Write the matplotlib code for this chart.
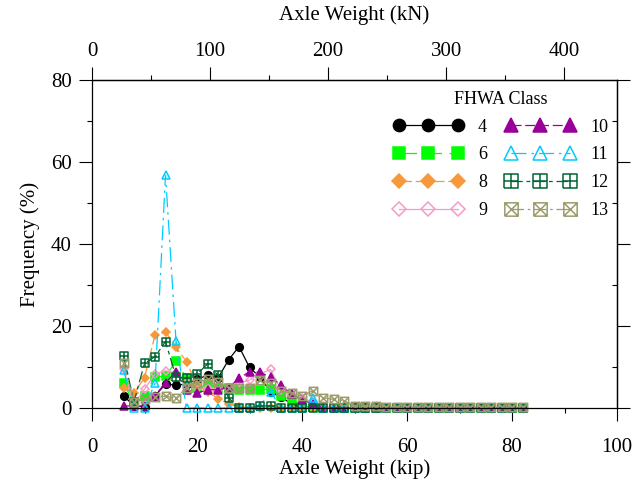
import numpy as np
import matplotlib
matplotlib.use("Agg")
import matplotlib.pyplot as plt
from matplotlib.path import Path
from matplotlib.ticker import MultipleLocator, NullFormatter, FixedLocator

# ---------------- data ----------------
axle_kip = [6, 8, 10, 12, 14, 16, 18, 20, 22, 24, 26, 28, 30, 32, 34, 36, 38, 40, 42, 44,
            46, 48, 50, 52, 54, 56, 58, 60, 62, 64, 66, 68, 70, 72, 74, 76, 78, 80, 82]

class4 = [3.0, 0.5, 0.3, 3.0, 5.8, 5.6, 5.8, 7.0, 8.0, 7.3, 11.7, 15.0, 9.9, 7.5, 4.0, 2.7, 1.0, 0.5, 0.2, 0.0,
          0.0, 0.0, 0.0, 0.0, 0.0, 0.0, 0.0, 0.0, 0.0, 0.0, 0.0, 0.0, 0.0, 0.0, 0.0, 0.0, 0.0, 0.0, 0.0]
class6 = [6.2, 1.0, 3.0, 7.6, 7.8, 11.4, 7.3, 5.0, 5.5, 5.0, 4.9, 4.5, 4.5, 4.5, 4.6, 3.0, 2.0, 0.5, 0.2, 0.0,
          0.0, 0.0, 0.0, 0.0, 0.0, 0.0, 0.0, 0.0, 0.0, 0.0, 0.0, 0.0, 0.0, 0.0, 0.0, 0.0, 0.0, 0.0, 0.0]
class8 = [5.0, 3.6, 7.4, 17.8, 18.6, 14.8, 11.3, 5.5, 4.0, 2.3, 1.0, 0.3, 0.0, 0.0, 0.0, 0.0, 0.0, 0.0, 0.0, 0.0,
          0.0, 0.0, 0.0, 0.0, 0.0, 0.0, 0.0, 0.0, 0.0, 0.0, 0.0, 0.0, 0.0, 0.0, 0.0, 0.0, 0.0, 0.0, 0.0]
class9 = [9.5, 1.0, 4.6, 8.3, 9.1, 8.5, 6.0, 5.0, 5.0, 4.5, 5.0, 6.0, 6.8, 8.3, 9.4, 4.4, 3.3, 2.4, 1.5, 0.5,
          0.0, 0.0, 0.0, 0.0, 0.0, 0.0, 0.0, 0.0, 0.0, 0.0, 0.0, 0.0, 0.0, 0.0, 0.0, 0.0, 0.0, 0.0, 0.0]
class10 = [0.5, 0.5, 0.5, 3.0, 6.2, 8.8, 4.5, 3.6, 4.5, 4.4, 5.0, 7.2, 8.9, 8.7, 7.5, 5.6, 3.3, 2.0, 1.0, 0.3,
           0.0, 0.0, 0.0, 0.0, 0.0, 0.0, 0.0, 0.0, 0.0, 0.0, 0.0, 0.0, 0.0, 0.0, 0.0, 0.0, 0.0, 0.0, 0.0]
class11 = [9.3, 0.0, 0.0, 6.0, 56.8, 16.4, 0.0, 0.0, 0.0, 0.0, 0.0, 0.0, 0.0, 0.5, 4.0, 0.0, 0.0, 0.0, 2.4, 0.0,
           0.0, 0.0, 0.0, 0.0, 0.0, 0.0, 0.0, 0.0, 0.0, 0.0, 0.0, 0.0, 0.0, 0.0, 0.0, 0.0, 0.0, 0.0, 0.0]
class12 = [12.7, 1.5, 10.9, 12.5, 16.2, 7.6, 7.2, 8.3, 10.7, 8.0, 2.5, 0.0, 0.0, 0.5, 0.5, 0.0, 0.0, 0.0, 0.0, 0.0,
           0.0, 0.0, 0.0, 0.0, 0.0, 0.0, 0.0, 0.0, 0.0, 0.0, 0.0, 0.0, 0.0, 0.0, 0.0, 0.0, 0.0, 0.0, 0.0]
class13 = [10.9, 1.5, 2.1, 2.6, 2.9, 2.4, 5.0, 6.2, 7.0, 6.4, 5.0, 4.8, 5.0, 6.8, 6.0, 4.2, 3.6, 2.9, 4.2, 2.5,
           2.1, 1.8, 0.5, 0.5, 0.5, 0.3, 0.2, 0.2, 0.2, 0.2, 0.2, 0.2, 0.2, 0.2, 0.2, 0.2, 0.2, 0.2, 0.2]

class_labels = ["4", "6", "8", "9", "10", "11", "12", "13"]
kn_ticks = [0, 100, 200, 300, 400]
kn_minor_ticks = [50, 150, 250, 350]

# ---------------- style ----------------
plt.rcParams['font.family'] = ['Liberation Serif', 'DejaVu Serif']

boxplus = Path([(-1, -1), (1, -1), (1, 1), (-1, 1), (-1, -1), (0, -1), (0, 1), (-1, 0), (1, 0)],
               [Path.MOVETO, Path.LINETO, Path.LINETO, Path.LINETO, Path.LINETO,
                Path.MOVETO, Path.LINETO, Path.MOVETO, Path.LINETO])
boxx = Path([(-1, -1), (1, -1), (1, 1), (-1, 1), (-1, -1), (-1, -1), (1, 1), (-1, 1), (1, -1)],
            [Path.MOVETO, Path.LINETO, Path.LINETO, Path.LINETO, Path.LINETO,
             Path.MOVETO, Path.LINETO, Path.MOVETO, Path.LINETO])

series = [class4, class6, class8, class9, class10, class11, class12, class13]
styles = [
    dict(color='black', marker='o', mfc='black', ms=5.5, ls='-'),
    dict(color='#00FF00', marker='s', mfc='#00FF00', ms=5.5, dashes=(14, 6)),
    dict(color='#F7993A', marker='D', mfc='#F7993A', ms=4.5, dashes=(10, 3)),
    dict(color='#F79AC8', marker='D', mfc='none', ms=4.5, ls='-'),
    dict(color='#990099', marker='^', mfc='#990099', ms=6, dashes=(8, 3)),
    dict(color='#00CCFF', marker='^', mfc='none', ms=6, dashes=(12, 4, 2, 4)),
    dict(color='#006633', marker=boxplus, mfc='none', ms=6, dashes=(9, 3, 3, 3)),
    dict(color='#9C9B6B', marker=boxx, mfc='none', ms=6, dashes=(10, 3, 2, 3)),
]

fig = plt.figure(figsize=(6.41, 4.87), dpi=100)
ax = fig.add_axes([92 / 641, (487 - 408) / 487, (617 - 92) / 641, (408 - 80) / 487])

for vals, lab, st in zip(series, class_labels, styles):
    st = dict(st)
    kw = dict(color=st.pop('color'), marker=st.pop('marker'), mfc=st.pop('mfc'),
              ms=st.pop('ms'), lw=0.9, mew=1.1, clip_on=False, label=lab)
    if 'dashes' in st:
        kw['dashes'] = st.pop('dashes')
    else:
        kw['ls'] = st.pop('ls')
    kw['mec'] = kw['color']
    ax.plot(axle_kip, vals, **kw)

ax.set_xlim(0, 100)
ax.set_ylim(0, 80)
ax.xaxis.set_major_locator(MultipleLocator(20))
ax.xaxis.set_minor_locator(MultipleLocator(10))
ax.yaxis.set_major_locator(MultipleLocator(20))
ax.yaxis.set_minor_locator(MultipleLocator(10))

for s in ax.spines.values():
    s.set_linewidth(0.9)

fs = 15
ax.tick_params(which='major', direction='out', length=9.5, width=0.8, labelsize=fs, pad=12)
ax.tick_params(axis='y', which='major', pad=5)
ax.tick_params(which='minor', direction='out', length=3.6, width=0.8)
ax.set_xlabel('Axle Weight (kip)', fontsize=fs, labelpad=2)
ax.set_ylabel('Frequency (%)', fontsize=fs, labelpad=8)

# top axis in kN
top = ax.secondary_xaxis('top', functions=(lambda k: k * 4.448, lambda n: n / 4.448))
top.xaxis.set_major_locator(FixedLocator(kn_ticks))
top.xaxis.set_minor_locator(FixedLocator(kn_minor_ticks))
top.tick_params(which='major', direction='out', length=9.5, width=0.8, labelsize=fs, pad=4)
top.tick_params(which='minor', direction='out', length=3.6, width=0.8)
top.set_xlabel('Axle Weight (kN)', fontsize=fs, labelpad=16)
top.spines['top'].set_linewidth(0.9)

# right axis (no labels)
right = ax.secondary_yaxis('right')
right.yaxis.set_major_locator(MultipleLocator(20))
right.yaxis.set_minor_locator(MultipleLocator(10))
right.yaxis.set_major_formatter(NullFormatter())
right.tick_params(which='major', direction='out', length=9.5, width=0.8)
right.tick_params(which='minor', direction='in', length=3.6, width=0.8)
right.spines['right'].set_linewidth(0.9)

leg = ax.legend(ncol=2, title='FHWA Class', loc='upper right', bbox_to_anchor=(0.99, 0.978),
                frameon=False, fontsize=13, title_fontsize=13, numpoints=3, markerscale=1.6,
                handlelength=3.9, handletextpad=0.8, columnspacing=1.0, labelspacing=0.6,
                borderaxespad=0.0, borderpad=0.2)

fig.savefig('out.png', dpi=100)
